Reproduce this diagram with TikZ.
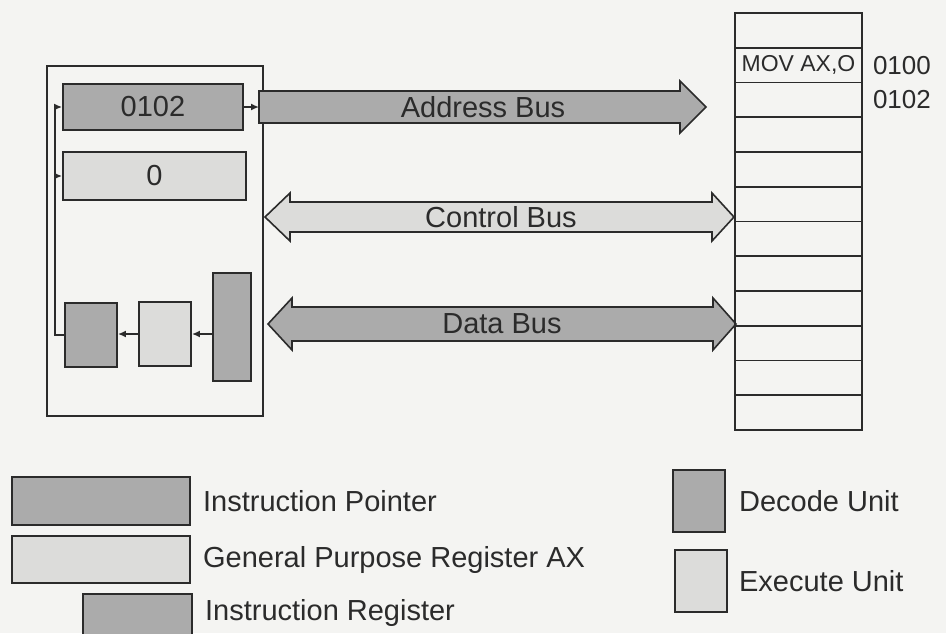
\documentclass[tikz,border=0pt]{standalone}
\usepackage{fontspec}
\setmainfont{Liberation Sans}
\usetikzlibrary{
  arrows.meta,
  calc,
  positioning
}
\definecolor{ink}{HTML}{2B2B2B}
\definecolor{paper}{HTML}{F4F4F2}
\definecolor{regdark}{HTML}{ABABAB}
\definecolor{reglight}{HTML}{DCDCDA}

\begin{document}
\begin{tikzpicture}[
  x=1pt, y=-1pt,
  every node/.style={font=\fontsize{29}{32}\selectfont, text=ink},
  reg/.style={draw=ink, line width=1.8pt, minimum width=182pt, minimum height=47pt, inner sep=0pt},
  unit/.style={draw=ink, line width=1.8pt, minimum width=52pt, minimum height=63pt, inner sep=0pt},
  cell/.style={draw=ink, line width=1.6pt, minimum width=127pt, minimum height=34.75pt, inner sep=0pt},
  bus/.style={draw=ink, line width=1.6pt, line join=miter},
  link/.style={draw=ink, line width=1.6pt, -{Latex[length=8pt,width=7pt]}},
  key/.style={inner sep=0pt}
]
\path[use as bounding box, fill=paper] (0,0) rectangle (946,633);
\clip (0,0) rectangle (946,633);

% processor
\node[draw=ink, line width=1.8pt, minimum width=216pt, minimum height=350pt] (cpu) at (155,241) {};
\node[reg, fill=regdark, minimum width=180pt, minimum height=46pt] (ip) at (153,107) {0102};
\node[reg, fill=reglight, minimum width=183pt, minimum height=48pt] (ax) at (154.5,176) {0};
\node[unit, fill=regdark, minimum height=64pt] (dec) at (91,335) {};
\node[unit, fill=reglight, minimum height=64pt] (exe) at (165,334) {};
\node[unit, fill=regdark, minimum width=38pt, minimum height=108pt] (ir) at (232,327) {};

\draw[link] (exe.east -| ir.west) -- (exe.east);
\draw[link] (exe.west) -- (dec.east |- exe.west);
\coordinate (fb) at (55,335);
\draw[link] (dec.west |- fb) -- (fb) |- (ip.west);
\draw[link] (fb |- ax.west) -- (ax.west);

% buses
\coordinate (abus) at (259,107);
\draw[link] (ip.east) -- (abus);
\draw[bus, fill=regdark] (259,91) -- (680,91) -- (680,81) -- (706,107) -- (680,133) -- (680,123) -- (259,123) -- cycle;
\node (addr) at (483,107) {Address Bus};
\draw[bus, fill=reglight] (265,217) -- (290,193) -- (290,202) -- (712,202) -- (712,193) -- (734,217) -- (712,241) -- (712,232) -- (290,232) -- (290,241) -- cycle;
\node (ctrl) at (501,217) {Control Bus};
\draw[bus, fill=regdark] (268,324) -- (292,298) -- (292,307) -- (713,307) -- (713,298) -- (736,324) -- (713,350) -- (713,341) -- (292,341) -- (292,350) -- cycle;
\node (data) at (502,324) {Data Bus};

% memory
\foreach \i in {1,...,12}
  \node[cell] (mem\i) at (798.5,{13+34.75*(\i-0.5)}) {};
\node[font=\fontsize{23}{25}\selectfont] (instr) at (mem2) {MOV AX,O};
\node[key, right=10pt of mem2, font=\fontsize{26}{28}\selectfont] (adr1) {0100};
\node[key, right=10pt of mem3, font=\fontsize{26}{28}\selectfont] (adr2) {0102};

% legend
\node[reg, fill=regdark, minimum width=178pt, minimum height=48pt] (keyip) at (101,501) {};
\node[key, right=12pt of keyip] (keyiptext) {Instruction Pointer};
\node[reg, fill=reglight, minimum width=178pt, minimum height=47pt] (keyax) at (101,559.5) {};
\node[key, right=12pt of keyax] (keyaxtext) {General Purpose Register AX};
\node[reg, fill=regdark, minimum width=109pt, minimum height=46pt] (keyir) at (137.5,617) {};
\node[key, right=12pt of keyir, yshift=4pt] (keyirtext) {Instruction Register};
\node[unit, fill=regdark, minimum height=62pt] (keydec) at (699,501) {};
\node[key, right=13pt of keydec] (keydectext) {Decode Unit};
\node[unit, fill=reglight, minimum height=62pt] (keyexe) at (701,581) {};
\node[key, right=11pt of keyexe] (keyexetext) {Execute Unit};
\end{tikzpicture}
\end{document}
